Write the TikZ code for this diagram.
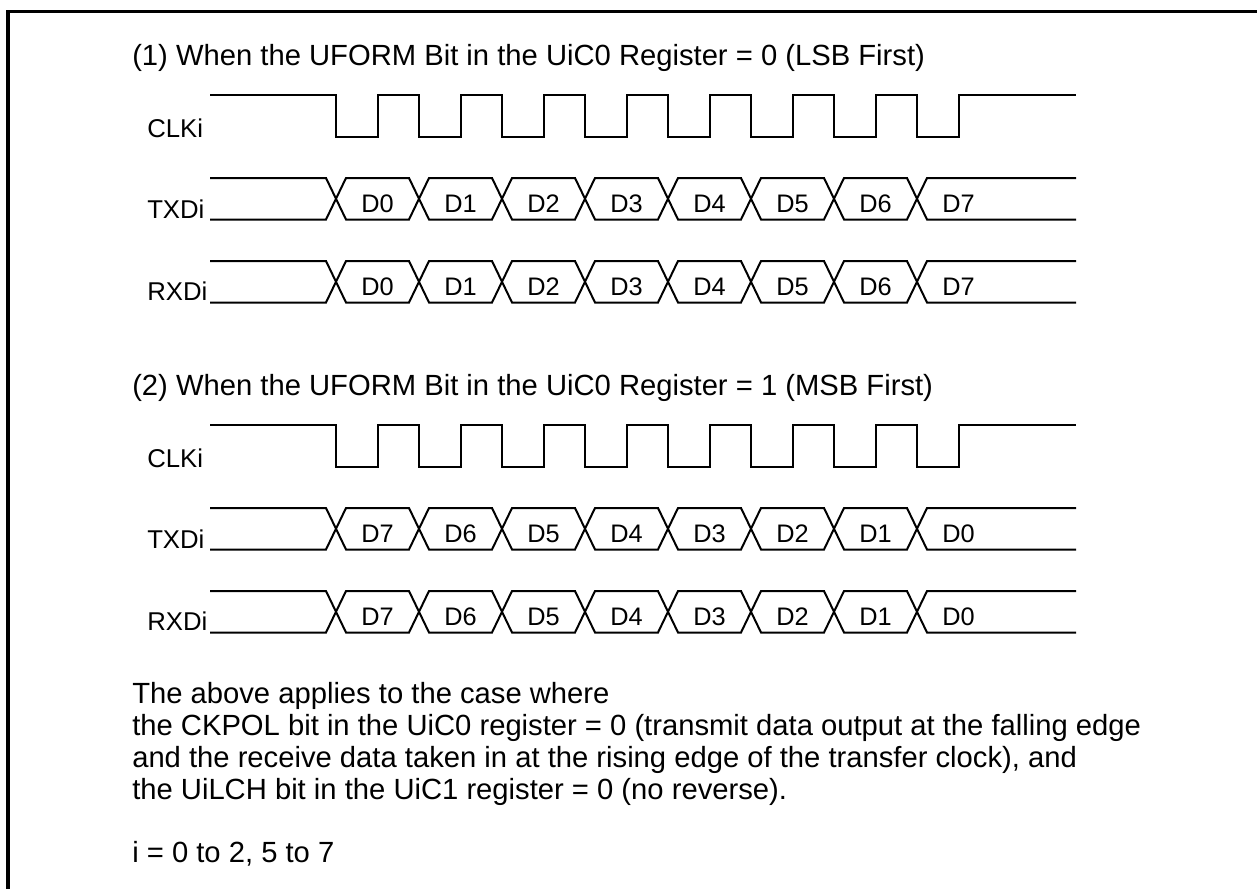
\documentclass[tikz,border=0pt]{standalone}
\usepackage{fontspec}
\setmainfont{Liberation Sans}
\tikzset{
  sig/.style={line width=1.5pt, line join=miter, line cap=butt},
  frameline/.style={line width=2.6pt},
  title/.style={anchor=base west, inner sep=0pt, font=\fontsize{21.9}{26}\selectfont},
  sname/.style={anchor=base west, inner sep=0pt, font=\fontsize{19.3}{23}\selectfont},
  dlbl/.style={anchor=base, inner sep=0pt, font=\fontsize{19}{23}\selectfont},
  note/.style={anchor=base west, inner sep=0pt, font=\fontsize{21.9}{26}\selectfont}
}
\newcommand\mydataline[4]{%
  \draw[sig] (210,#1) \foreach \kk in {0,...,7}{ -- ({326+83*\kk},{#1+(#2-#1)*mod(\kk,2)}) -- ({346+83*\kk},{#2-(#2-#1)*mod(\kk,2)}) } -- (1076,#1);
  \draw[sig] (210,#2) \foreach \kk in {0,...,7}{ -- ({326+83*\kk},{#2-(#2-#1)*mod(\kk,2)}) -- ({346+83*\kk},{#1+(#2-#1)*mod(\kk,2)}) } -- (1076,#2);
  \foreach \dd [count=\cc from 0] in {#3} \node[dlbl] (#4\cc) at ({377.5+83*\cc},{#2-7}) {\dd};
}
\newcommand\mypanel[4]{%
  \begin{scope}[shift={(0,#1)}]
    \node[title] (title#2) at (132,65) {#3};
    \node[sname] (clk#2) at (147,137) {CLKi};
    \node[sname] (txd#2) at (147,218) {TXDi};
    \node[sname] (rxd#2) at (147,300) {RXDi};
    \draw[sig] (210,95) \foreach \kk in {0,...,7}{ -- ({336+83*\kk},95) -- ({336+83*\kk},137) -- ({377.5+83*\kk},137) -- ({377.5+83*\kk},95) } -- (1076,95);
    \mydataline{178}{219.5}{#4}{t#2d}
    \mydataline{261}{302.5}{#4}{r#2d}
  \end{scope}
}
\begin{document}
\begin{tikzpicture}[x=0.75pt,y=-0.75pt]
  \useasboundingbox (0,0) rectangle (1257,889);
  \draw[frameline] (8,900) -- (8,11.5) -- (1270,11.5);
  \mypanel{0}{1}{(1) When the UFORM Bit in the UiC0 Register = 0 (LSB First)}{D0,D1,D2,D3,D4,D5,D6,D7}
  \mypanel{330}{2}{(2) When the UFORM Bit in the UiC0 Register = 1 (MSB First)}{D7,D6,D5,D4,D3,D2,D1,D0}
  \node[note] (n1) at (132,703) {The above applies to the case where};
  \node[note] (n2) at (132,735) {the CKPOL bit in the UiC0 register = 0 (transmit data output at the falling edge};
  \node[note] (n3) at (132,767) {and the receive data taken in at the rising edge of the transfer clock), and};
  \node[note] (n4) at (132,799) {the UiLCH bit in the UiC1 register = 0 (no reverse).};
  \node[note] (n5) at (132,862) {i = 0 to 2, 5 to 7};
\end{tikzpicture}
\end{document}
